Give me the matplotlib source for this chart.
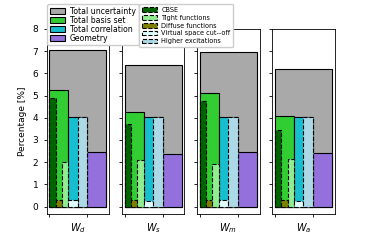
import matplotlib
matplotlib.use("Agg")
from matplotlib import pyplot as plt

# Values (percent)
molecules = ["$W_d$", "$W_s$", "$W_m$", "$W_a$"]
total_unc = [7.05, 6.35, 6.94, 6.17]
total_basis = [5.27, 4.27, 5.12, 4.06]
total_corr = [4.02, 4.02, 4.02, 4.04]
geometry = [2.44, 2.37, 2.44, 2.40]
cbse = [4.88, 3.74, 4.76, 3.45]
tight = [2.02, 2.10, 1.90, 2.13]
diffuse = [0.30, 0.30, 0.30, 0.30]
virtual = [0.28, 0.26, 0.30, 0.26]
higher = [4.02, 4.03, 4.02, 4.04]

plt.rcParams["font.size"] = 6.5
plt.rcParams["axes.linewidth"] = 0.6
plt.rcParams["xtick.major.width"] = 0.6
plt.rcParams["ytick.major.width"] = 0.6
plt.rcParams["xtick.major.size"] = 2.3
plt.rcParams["ytick.major.size"] = 2.3

fig, axes = plt.subplots(1, 4, sharey=True, figsize=(3.72, 2.4), dpi=100)

solid = dict(edgecolor="k", linewidth=0.8, align="edge")
dashed = dict(edgecolor="k", linewidth=0.8, linestyle="--", align="edge")

for i, ax in enumerate(axes):
    lab = i == 0
    ax.bar(0, total_unc[i], 1.5, color="darkgray", label="Total uncertainty" if lab else None, **solid)
    ax.bar(0, total_basis[i], 0.5, color="limegreen", label="Total basis set" if lab else None, **solid)
    ax.bar(0.5, total_corr[i], 0.5, color="tab:cyan", label="Total correlation" if lab else None, **solid)
    ax.bar(1.0, geometry[i], 0.5, color="mediumpurple", label="Geometry" if lab else None, **solid)

    w = 0.5 / 3
    ax.bar(0, cbse[i], w, color="darkgreen", label="CBSE" if lab else None, **dashed)
    ax.bar(w, diffuse[i], w, color="olive", label="Diffuse functions" if lab else None, **dashed)
    ax.bar(2 * w, tight[i], w, color="lightgreen", label="Tight functions" if lab else None, **dashed)
    ax.bar(0.5, virtual[i], 0.25, color="lightcyan", label="Virtual space cut--off" if lab else None, **dashed)
    ax.bar(0.75, higher[i], 0.25, color="lightblue", label="Higher excitations" if lab else None, **dashed)

    ax.set_xlim(-0.075, 1.575)
    ax.set_xticks([0, 1])
    ax.set_xticklabels([])
    ax.set_xlabel(molecules[i], fontsize=7, labelpad=-0.5)

axes[0].set_ylim(-0.31, 8.0)
axes[0].set_yticks(range(0, 9))
axes[0].set_ylabel("Percentage [%]", fontsize=6.5)

h, l = axes[0].get_legend_handles_labels()
order1 = ["Total uncertainty", "Total basis set", "Total correlation", "Geometry"]
order2 = ["CBSE", "Tight functions", "Diffuse functions", "Virtual space cut--off", "Higher excitations"]
hd = dict(zip(l, h))
fig.legend([hd[k] for k in order1], order1, bbox_to_anchor=(47 / 372, 1 - 4 / 240),
           loc="upper left", fontsize=5.6, labelspacing=0.0, borderaxespad=0,
           handlelength=2.0, handletextpad=0.6, borderpad=0.35, framealpha=1)
fig.legend([hd[k] for k in order2], order2, bbox_to_anchor=(139 / 372, 1 - 4 / 240),
           loc="upper left", fontsize=4.7, labelspacing=0.3, borderaxespad=0,
           handlelength=2.3, handletextpad=0.7, borderpad=0.4, framealpha=1)

fig.savefig("out.png", dpi=100)
